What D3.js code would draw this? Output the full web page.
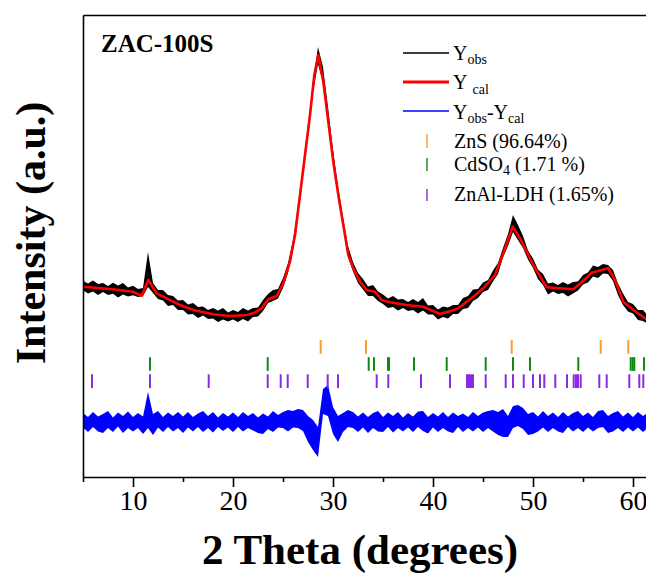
<!DOCTYPE html>
<html>
<head>
<meta charset="utf-8">
<script src="https://cdn.jsdelivr.net/npm/d3@7"></script>
<style>
  html, body { margin: 0; padding: 0; background: #fff; }
  svg { display: block; font-family: "Times New Roman", "Liberation Serif", serif; }
</style>
</head>
<body>
<div id="chart"></div>
<script>
// sampling grid of the observed pattern (2θ, degrees)
const twoTheta = [5,5.5,6,6.5,7,7.5,8,8.5,9,9.5,10,10.5,11,11.5,12,12.5,13,13.5,14,14.5,
  15,15.5,16,16.5,17,17.5,18,18.5,19,19.5,20,20.5,21,21.5,22,22.5,23,23.5,24,24.5,
  25,25.5,26,26.5,27,27.5,28,28.5,29,29.5,30,30.5,31,31.5,32,32.5,33,33.5,34,34.5,
  35,35.5,36,36.5,37,37.5,38,38.5,39,39.5,40,40.5,41,41.5,42,42.5,43,43.5,44,44.5,
  45,45.5,46,46.5,47,47.5,48,48.5,49,49.5,50,50.5,51,51.5,52,52.5,53,53.5,54,54.5,
  55,55.5,56,56.5,57,57.5,58,58.5,59,59.5,60,60.5,61,61.5];

// Y_obs: upper / lower envelope of the noisy trace (a.u.)
const obsHigh = [1963,1934,1964,1930,1941,1911,1942,1916,1940,1894,
  1913,1880,1890,2250,1940,1870,1870,1820,1810,1765,
  1770,1725,1740,1700,1705,1670,1690,1665,1690,1645,
  1670,1650,1690,1665,1690,1695,1770,1830,1870,1880,
  1990,2140,2370,2700,3110,3510,3960,4300,4100,3700,
  3270,2910,2600,2310,2150,2040,1980,1905,1920,1855,
  1825,1785,1810,1775,1780,1750,1780,1750,1790,1715,
  1720,1675,1705,1695,1720,1720,1790,1810,1875,1880,
  1945,1970,2065,2140,2290,2430,2620,2520,2410,2265,
  2185,2075,2030,1935,1945,1920,1950,1925,1950,1955,
  2020,2045,2115,2100,2130,2120,2070,1935,1835,1750,
  1730,1670,1670,1610];
const obsLow = [1868,1834,1854,1820,1851,1821,1832,1796,1825,1804,
  1818,1800,1810,1900,1840,1780,1765,1710,1720,1670,
  1670,1625,1630,1590,1615,1580,1585,1550,1575,1555,
  1575,1550,1580,1555,1600,1605,1660,1740,1760,1785,
  1890,2040,2270,2610,3010,3410,3840,4130,3940,3550,
  3140,2800,2500,2200,2055,1940,1875,1810,1810,1760,
  1730,1690,1700,1665,1690,1660,1670,1635,1665,1625,
  1625,1575,1600,1585,1630,1630,1680,1690,1760,1790,
  1850,1870,1955,2030,2195,2310,2450,2370,2290,2175,
  2090,1980,1920,1825,1855,1830,1840,1805,1835,1865,
  1925,1945,2005,1990,2035,2030,1960,1820,1720,1655,
  1635,1570,1560,1530];

// Y_obs - Y_cal envelope
const diffHigh = [90,50,100,55,80,110,45,95,60,105,
  50,90,55,300,80,110,50,95,60,100,
  55,100,50,85,110,60,100,45,90,55,
  95,50,100,60,90,45,85,55,110,70,
  100,120,110,130,120,60,20,-50,330,370,
  150,60,90,120,100,55,95,50,90,110,
  50,95,60,100,45,90,55,105,110,50,
  90,55,100,50,95,60,85,50,100,60,
  95,110,120,100,130,60,160,170,140,80,
  100,55,110,60,95,50,100,55,90,110,
  60,95,50,110,120,60,90,110,55,95,
  50,100,60,95];
const diffLow = [-55,-100,-50,-95,-110,-60,-100,-45,-110,-60,
  -95,-60,-120,-60,-130,-55,-100,-50,-95,-60,
  -110,-55,-95,-50,-100,-60,-105,-50,-90,-55,
  -100,-50,-95,-60,-85,-110,-120,-70,-100,-55,
  -60,-95,-55,-60,-90,-200,-280,-350,80,60,
  -120,-200,-100,-50,-60,-100,-55,-110,-60,-95,
  -100,-50,-105,-60,-95,-55,-100,-50,-90,-115,
  -55,-100,-60,-95,-110,-50,-100,-60,-95,-55,
  -100,-60,-95,-130,-150,-150,-60,-40,-70,-130,
  -120,-95,-55,-100,-60,-95,-110,-50,-95,-60,
  -100,-55,-95,-60,-50,-110,-95,-60,-100,-55,
  -95,-55,-100,-60];
const diffOffset = 550;

// Y_cal (Rietveld fit)
const calTheta = [5.0,8.0,10.0,10.87,11.53,12.37,13.37,14.7,16.03,18.03,19.7,21.37,22.03,22.87,
  23.53,24.37,25.03,25.7,26.2,26.7,27.2,27.7,28.13,28.53,29.03,29.53,30.03,30.53,31.03,31.53,
  32.03,32.7,33.37,34.2,34.87,35.7,37.37,39.03,40.7,42.37,44.03,45.03,46.2,47.03,47.97,48.7,
  50.03,51.37,52.7,54.03,55.03,55.87,57.53,58.2,59.03,60.03,61.2,62.5];
const calCounts = [1903,1877,1853,1813,1970,1837,1787,1720,1670,1627,1610,1620,1637,1687,
  1777,1810,1940,2153,2420,2820,3220,3620,4020,4220,3953,3553,3153,2820,2520,2220,
  2087,1953,1870,1853,1770,1747,1720,1703,1630,1677,1803,1887,2020,2237,2503,2387,
  2120,1897,1887,1877,1963,2043,2087,1970,1753,1670,1587,1500];

// Bragg positions of each phase
const znsPeaks = [28.77, 33.3, 47.87, 56.77, 59.53];
const cdso4Peaks = [11.7, 23.47, 33.57, 34.1, 35.5, 35.6, 38.1, 41.37, 45.27, 48.0, 49.7, 54.53, 59.77, 59.97, 60.13, 61.1];
const ldhPeaks = [5.9, 11.7, 17.57, 23.47, 24.77, 25.47, 27.47, 29.47, 30.5, 34.37, 35.53, 38.8, 41.7,
  43.4, 43.6, 43.8, 44.0, 45.27, 47.27, 48.0, 49.07, 50.0, 50.7, 51.13, 52.23, 53.4,
  54.07, 54.3, 54.5, 54.77, 56.63, 57.37, 59.63, 60.63, 61.03];

const phaseNames = ["ZnS", "CdSO4", "ZnAl-LDH"];
const phasePercent = ["(96.64%)", "(1.71 %)", "(1.65%)"];
const phaseColors = ["#ff9933", "#118811", "#8a2be2"];
const majorTicks = [10, 20, 30, 40, 50, 60];
const minorTicks = [5, 15, 25, 35, 45, 55, 65];

(() => {
    const width = 646, height = 574;
    const margin = { top: 15, left: 83, bottom: 97 };
    const plotW = 600, plotH = height - margin.top - margin.bottom;

    const svg = d3.select("#chart").append("svg")
        .attr("width", width).attr("height", height);

    const x = d3.scaleLinear().domain([5, 65]).range([margin.left, margin.left + plotW]);
    const y = d3.scaleLinear().domain([0, 4620]).range([margin.top + plotH, margin.top]);

    svg.append("clipPath").attr("id", "plotclip")
        .append("rect")
        .attr("x", margin.left).attr("y", margin.top)
        .attr("width", plotW).attr("height", plotH);

    const plot = svg.append("g").attr("clip-path", "url(#plotclip)");

    const obs = twoTheta.map((t, i) => ({ t, hi: obsHigh[i], lo: obsLow[i] }));
    const diff = twoTheta.map((t, i) => ({ t, hi: diffHigh[i], lo: diffLow[i] }));
    const cal = calTheta.map((t, i) => ({ t, v: calCounts[i] }));

    // observed trace
    plot.append("path")
        .datum(obs)
        .attr("d", d3.area().x(d => x(d.t)).y0(d => y(d.lo)).y1(d => y(d.hi)))
        .attr("fill", "#000");

    // calculated
    plot.append("path")
        .datum(cal)
        .attr("d", d3.line().x(d => x(d.t)).y(d => y(d.v)))
        .attr("fill", "none").attr("stroke", "#ff0000").attr("stroke-width", 2.6)
        .attr("stroke-linejoin", "round");

    // difference
    plot.append("path")
        .datum(diff)
        .attr("d", d3.area().x(d => x(d.t)).y0(d => y(diffOffset + d.lo)).y1(d => y(diffOffset + d.hi)))
        .attr("fill", "#0000ff");

    // Bragg tick rows
    const rows = d3.scaleBand().domain(phaseNames).range([340, 388]).paddingInner(0.2);
    [znsPeaks, cdso4Peaks, ldhPeaks].forEach((peaks, k) => {
        plot.selectAll(".bragg" + k)
            .data(peaks)
            .enter().append("line")
            .attr("x1", d => x(d)).attr("x2", d => x(d))
            .attr("y1", rows(phaseNames[k])).attr("y2", rows(phaseNames[k]) + rows.bandwidth())
            .attr("stroke", phaseColors[k]).attr("stroke-width", 2);
    });

    // axes
    const xAxis = svg.append("g")
        .attr("transform", `translate(0,${margin.top + plotH})`)
        .call(d3.axisBottom(x).tickValues(majorTicks).tickSize(10).tickSizeOuter(0).tickPadding(3)
            .tickFormat(d3.format("d")));
    xAxis.selectAll("text").attr("font-size", 28).attr("font-family", "'Times New Roman','Liberation Serif',serif").attr("fill", "#000");
    xAxis.select(".domain").attr("stroke-width", 1.6);
    xAxis.selectAll(".tick line").attr("stroke-width", 1.6);

    svg.append("g")
        .attr("transform", `translate(0,${margin.top + plotH})`)
        .call(d3.axisBottom(x).tickValues(minorTicks).tickSize(5).tickFormat(""))
        .call(g => g.select(".domain").remove())
        .selectAll(".tick line").attr("stroke-width", 1.6);

    svg.append("g")
        .attr("transform", `translate(${margin.left},0)`)
        .call(d3.axisLeft(y).tickValues([]).tickSizeOuter(0))
        .select(".domain").attr("stroke-width", 1.6);

    svg.append("g")
        .attr("transform", `translate(0,${margin.top})`)
        .call(d3.axisTop(x).tickValues([]).tickSizeOuter(0))
        .select(".domain").attr("stroke-width", 1.6);

    // axis titles
    svg.append("text")
        .attr("x", 360).attr("y", 564)
        .attr("text-anchor", "middle")
        .attr("font-size", 43).attr("font-weight", "bold")
        .text("2 Theta (degrees)");

    svg.append("text")
        .attr("transform", "translate(45,233) rotate(-90)")
        .attr("text-anchor", "middle")
        .attr("font-size", 42).attr("font-weight", "bold")
        .text("Intensity (a.u.)");

    svg.append("text")
        .attr("x", 101).attr("y", 52)
        .attr("font-size", 25).attr("font-weight", "bold")
        .text("ZAC-100S");

    // legend
    const leg = svg.append("g").attr("font-size", 20);
    const lx0 = 403, lx1 = 449, tx = 453;

    leg.append("line").attr("x1", lx0).attr("x2", lx1).attr("y1", 53).attr("y2", 53)
        .attr("stroke", "#000").attr("stroke-width", 1.5);
    const t1 = leg.append("text").attr("x", tx).attr("y", 60);
    t1.append("tspan").text("Y");
    t1.append("tspan").attr("font-size", 14).attr("dy", 4).text("obs");

    leg.append("line").attr("x1", lx0).attr("x2", lx1).attr("y1", 82).attr("y2", 82)
        .attr("stroke", "#ff0000").attr("stroke-width", 3);
    const t2 = leg.append("text").attr("x", tx).attr("y", 89);
    t2.append("tspan").text("Y");
    t2.append("tspan").attr("font-size", 14).attr("dy", 5).attr("dx", 5).text("cal");

    leg.append("line").attr("x1", lx0).attr("x2", lx1).attr("y1", 111).attr("y2", 111)
        .attr("stroke", "#0000ff").attr("stroke-width", 1.5);
    const t3 = leg.append("text").attr("x", tx).attr("y", 119);
    t3.append("tspan").text("Y");
    t3.append("tspan").attr("font-size", 14).attr("dy", 4).text("obs");
    t3.append("tspan").attr("dy", -4).text("-Y");
    t3.append("tspan").attr("font-size", 14).attr("dy", 4).text("cal");

    const legRows = [[134, 148], [158, 171], [189, 201]];
    phaseNames.forEach((name, k) => {
        leg.append("line")
            .attr("x1", 427).attr("x2", 427)
            .attr("y1", legRows[k][0]).attr("y2", legRows[k][1])
            .attr("stroke", phaseColors[k]).attr("stroke-width", 2).attr("opacity", 0.7);
        const t = leg.append("text").attr("x", 454).attr("y", legRows[k][1]);
        if (name === "CdSO4") {
            t.append("tspan").text("CdSO");
            t.append("tspan").attr("font-size", 14).attr("dy", 4).text("4");
            t.append("tspan").attr("dy", -4).text(" " + phasePercent[k]);
        } else {
            t.text(name + " " + phasePercent[k]);
        }
    });
})();
</script>
</body>
</html>
